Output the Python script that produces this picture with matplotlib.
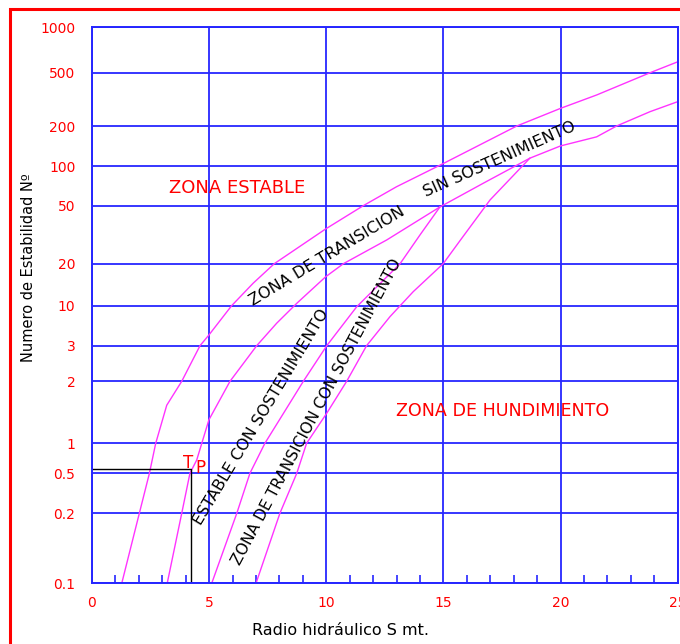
import matplotlib
matplotlib.use("Agg")
import matplotlib.pyplot as plt
import numpy as np
from matplotlib.ticker import FixedLocator, FixedFormatter, MultipleLocator
from matplotlib.patches import Rectangle

# valores del eje N (tal como vienen rotulados en el grafico)
n_ticks = [0.1, 0.2, 0.5, 1, 2, 3, 10, 20, 50, 100, 200, 500, 1000]
n_labels = ["0.1", "0.2", "0.5", "1", "2", "3", "10", "20", "50", "100", "200", "500", "1000"]
# posicion relativa de cada linea de la grilla (el eje no es log puro)
pos_y = [0, 0.1258, 0.1977, 0.2517, 0.3631, 0.4271, 0.4990, 0.5745,
         0.6788, 0.7496, 0.8220, 0.9178, 1.0]

# curva limite zona estable / zona de transicion
a_s = [1.27, 2.02, 2.45, 2.72, 3.19, 3.83, 4.61, 4.99, 5.96, 6.88, 7.78, 9.97,
       11.58, 13.0, 15.0, 18.13, 20.0, 21.54, 23.82, 25.0]
a_n = [0.1, 0.2, 0.5, 1.0, 1.53, 2.0, 3.0, 4.14, 10, 14.5, 20, 34.6,
       50, 69.8, 105, 200, 271, 341, 500, 590]

# curva limite inferior zona de transicion
b_s = [3.21, 3.83, 4.18, 4.47, 4.99, 5.89, 7.03, 7.88, 8.74, 9.97, 10.73, 12.58,
       14.85, 16.70, 18.69, 20.0, 21.54, 22.39, 23.82, 25.0]
b_n = [0.1, 0.2, 0.5, 0.68, 1.30, 2.0, 3.0, 5.89, 10.4, 16.1, 20, 29.1,
       49, 74.2, 115, 142, 166, 200, 256, 304]

# estable con sostenimiento / transicion con sostenimiento
c_s = [5.11, 6.18, 6.74, 7.38, 9.02, 10.02, 11.30, 13.15, 14.0, 14.85]
c_n = [0.1, 0.2, 0.5, 1.0, 2.0, 3.0, 9.7, 20, 31.5, 49]

# transicion con sostenimiento / hundimiento
d_s = [7.0, 8.02, 8.74, 9.16, 10.02, 10.87, 11.72, 12.72, 13.71, 14.99, 15.73, 16.99, 18.69]
d_n = [0.1, 0.2, 0.5, 1.0, 1.40, 2.0, 3.0, 7.2, 12.6, 20, 29.1, 55.3, 115]

# punto TP
tp_s = 4.24
tp_n = 0.55


def adelante(y):
    y = np.clip(np.asarray(y, dtype=float), 1e-6, None)
    return np.interp(np.log10(y), np.log10(n_ticks), pos_y)


def atras(p):
    return 10 ** np.interp(p, pos_y, np.log10(n_ticks))


azul = "#2626ff"
magenta = "#ff33ff"

fig = plt.figure(figsize=(6.8, 6.44), dpi=100)
ax = fig.add_axes([92 / 680, 60.7 / 644, 585.7 / 680, 556.3 / 644])
ax.set_yscale("function", functions=(adelante, atras))
ax.set_xlim(0, 25)
ax.set_ylim(0.1, 1000)

ax.yaxis.set_major_locator(FixedLocator(n_ticks))
ax.yaxis.set_major_formatter(FixedFormatter(n_labels))
ax.yaxis.set_minor_locator(FixedLocator([]))
ax.xaxis.set_major_locator(MultipleLocator(5))
ax.xaxis.set_minor_locator(MultipleLocator(1))

ax.grid(True, which="major", color=azul, lw=1.3)
for sp in ax.spines.values():
    sp.set_color(azul)
    sp.set_linewidth(1.4)
ax.tick_params(axis="y", which="major", length=0, pad=12, labelsize=10, labelcolor="red")
ax.tick_params(axis="x", which="major", length=0, pad=9, labelsize=10, labelcolor="red")
ax.tick_params(axis="x", which="minor", direction="in", length=6, width=1.2, color=azul)

# curvas
ax.plot(a_s, a_n, color=magenta, lw=1.0)
ax.plot(b_s, b_n, color=magenta, lw=1.0)
ax.plot(c_s, c_n, color=magenta, lw=1.0)
ax.plot(d_s, d_n, color=magenta, lw=1.0)

# TP
ax.plot([0, tp_s, tp_s], [tp_n, tp_n, 0.1], color="black", lw=1.0)
ax.text(4.11, 0.64, "T", color="red", fontsize=12, ha="center", va="center")
ax.text(4.63, 0.57, "P", color="red", fontsize=12, ha="center", va="center")

# textos de zonas
ax.text(0.2476, 0.7106, "ZONA ESTABLE", transform=ax.transAxes, color="red",
        fontsize=13, ha="center", va="center")
ax.text(0.7017, 0.3097, "ZONA DE HUNDIMIENTO", transform=ax.transAxes, color="red",
        fontsize=12.6, ha="center", va="center")
ax.text(0.4012, 0.5884, "ZONA DE TRANSICION", transform=ax.transAxes, color="black",
        fontsize=11.5, ha="center", va="center", rotation=31, rotation_mode="anchor")
ax.text(0.6960, 0.7630, "SIN SOSTENIMIENTO", transform=ax.transAxes, color="black",
        fontsize=11.5, ha="center", va="center", rotation=24, rotation_mode="anchor")
ax.text(0.2894, 0.298, "ESTABLE CON SOSTENIMIENTO", transform=ax.transAxes, color="black",
        fontsize=11.5, ha="center", va="center", rotation=59, rotation_mode="anchor")
ax.text(0.3840, 0.308, "ZONA DE TRANSICION CON SOSTENIMIENTO", transform=ax.transAxes,
        color="black", fontsize=11.2, ha="center", va="center", rotation=62,
        rotation_mode="anchor")

ax.set_xlabel("Radio hidráulico S mt.", fontsize=11.5)
ax.xaxis.set_label_coords(0.425, -0.071)
ax.set_ylabel("Numero de Estabilidad Nº", fontsize=10.5)
ax.yaxis.set_label_coords(-0.095, 0.567)

# marco rojo
fig.add_artist(Rectangle((9.5 / 680, -0.1), 1.2, 634.5 / 644 + 0.1, fill=False,
                         ec="red", lw=2.2, transform=fig.transFigure))

fig.savefig("out.png", dpi=100)
